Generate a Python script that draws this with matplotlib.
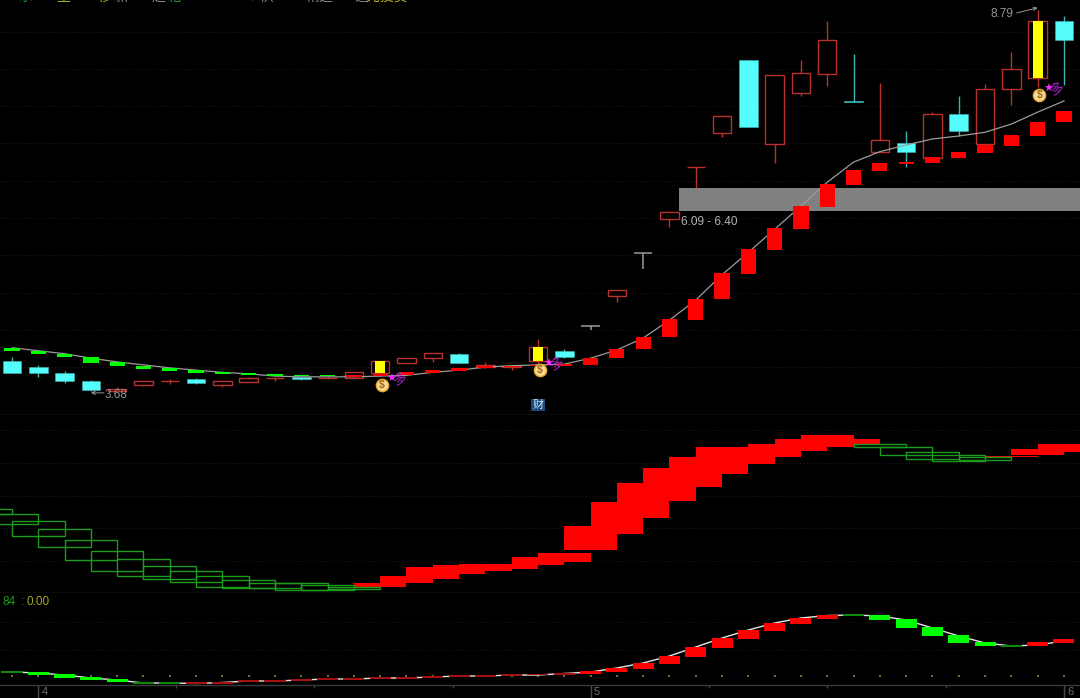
import matplotlib
matplotlib.use('Agg')
import matplotlib.pyplot as plt

plt.rcParams['font.family'] = ['Liberation Sans', 'Noto Sans CJK SC', 'DejaVu Sans']

# K-line, one bar per day
opens = [4.08, 4.00, 3.92, 3.81, 3.68, 3.76, 3.81, 3.84, 3.76, 3.80, 3.85, 3.87, 3.85, 3.85,
         3.92, 4.06, 4.12, 4.18, 4.00, 4.00, 4.08, 4.22, 4.55, 4.95, 5.53, 5.99, 6.68, 7.14,
         8.12, 6.99, 7.68, 7.93, 7.57, 6.89, 7.01, 6.81, 7.40, 6.99, 7.73, 7.88, 8.64]
closes = [3.92, 3.92, 3.81, 3.69, 3.71, 3.81, 3.82, 3.79, 3.81, 3.85, 3.86, 3.84, 3.86, 3.93,
          4.08, 4.12, 4.19, 4.06, 4.03, 4.02, 4.27, 4.14, 4.55, 5.03, 5.53, 6.08, 6.69, 7.37,
          7.22, 7.92, 7.95, 8.39, 7.56, 7.05, 6.89, 7.40, 7.17, 7.73, 8.00, 8.64, 8.39]
highs = [4.14, 4.03, 3.95, 3.83, 3.73, 3.81, 3.84, 3.85, 3.81, 3.87, 3.87, 3.87, 3.88, 3.93,
         4.08, 4.12, 4.19, 4.19, 4.07, 4.03, 4.38, 4.24, 4.55, 5.03, 5.53, 6.08, 6.69, 7.37,
         8.12, 7.92, 8.12, 8.64, 8.20, 7.81, 7.17, 7.42, 7.64, 7.80, 8.23, 8.79, 8.71]
lows = [3.92, 3.87, 3.79, 3.68, 3.68, 3.75, 3.77, 3.77, 3.73, 3.80, 3.81, 3.83, 3.84, 3.85,
        3.88, 4.06, 4.07, 4.06, 3.99, 3.96, 4.04, 4.12, 4.50, 4.87, 5.32, 5.88, 6.40, 7.09,
        7.22, 6.74, 7.64, 7.77, 7.56, 6.89, 6.68, 6.81, 7.10, 6.99, 7.52, 7.76, 7.78]

# trend blocks sitting on the average line
block_top = [4.26, 4.22, 4.18, 4.14, 4.07, 4.02, 3.99, 3.96, 3.93, 3.92, 3.91, 3.89, 3.89, 3.89,
             3.91, 3.93, 3.96, 3.99, 4.02, 4.02, 4.03, 4.04, 4.12, 4.24, 4.40, 4.65, 4.91, 5.26,
             5.58, 5.87, 6.16, 6.46, 6.64, 6.74, 6.75, 6.82, 6.89, 6.98, 7.11, 7.29, 7.43]
block_bottom = [4.22, 4.18, 4.14, 4.06, 4.02, 3.98, 3.95, 3.92, 3.91, 3.89, 3.88, 3.88, 3.88, 3.87,
                3.88, 3.89, 3.92, 3.95, 3.99, 4.00, 4.02, 4.02, 4.03, 4.12, 4.24, 4.40, 4.63, 4.91,
                5.25, 5.57, 5.85, 6.15, 6.44, 6.63, 6.72, 6.74, 6.81, 6.87, 6.97, 7.10, 7.29]
avg_line = [4.26, 4.22, 4.18, 4.12, 4.07, 4.03, 3.99, 3.96, 3.93, 3.91, 3.88, 3.87, 3.87, 3.87,
            3.88, 3.89, 3.93, 3.96, 4.00, 4.02, 4.03, 4.04, 4.12, 4.23, 4.39, 4.63, 4.90, 5.24,
            5.54, 5.85, 6.16, 6.48, 6.75, 6.89, 6.98, 7.06, 7.10, 7.15, 7.26, 7.42, 7.57]
block_green_until = 12

signal_days = [14, 20, 39]
bag_prices = [3.76, 3.96, 7.65]
zone_low = 6.09
zone_high = 6.40
zone_start = 25.36
price_grid = [4.0, 4.5, 5.0, 5.5, 6.0, 6.5, 7.0, 7.5, 8.0, 8.5]

# middle panel, first band belongs to the day before the screen
band_days = list(range(-1, 41))
band_top = [84, 79, 72, 64, 53, 42, 34, 27, 22, 17, 13, 10, 10, 8, 6, 10, 17, 26, 28, 29, 29, 36, 40,
            67, 91, 110, 125, 136, 146, 146, 149, 154, 158, 154, 149, 146, 141, 138, 136, 137, 144, 149]
band_bottom = [79, 69, 57, 46, 33, 22, 17, 14, 11, 6, 5, 5, 3, 3, 4, 6, 10, 14, 19, 22, 24, 28, 31,
               43, 59, 75, 92, 106, 119, 129, 136, 142, 146, 149, 146, 138, 134, 132, 133, 136, 138, 141]
band_green = list(range(-1, 14)) + [33, 34, 35, 36, 37]
band_grid = [32, 65, 97, 130, 163]

# lower panel
osc_top = [14, 13, 11, 8, 6, 3, 3, 3, 3, 5, 5, 6, 7, 7, 8, 8, 9, 10, 10, 11, 11, 12, 14, 17, 22,
           29, 38, 47, 55, 62, 67, 70, 71, 70, 66, 58, 50, 43, 40, 43, 46]
osc_bottom = [12, 10, 7, 5, 3, 1, 1, 1, 1, 3, 3, 4, 5, 5, 6, 6, 7, 8, 8, 9, 10, 10, 11, 13, 16,
              21, 28, 37, 46, 54, 61, 66, 69, 65, 57, 49, 42, 39, 38.5, 39, 42]
osc_line = [13, 12, 10, 7, 5, 2, 2, 1.5, 2.5, 4, 4, 5, 6, 6, 7, 7, 8, 9, 9, 10, 10, 11.5, 13, 17, 22,
            29, 38, 47, 55, 62, 67, 69.5, 70, 69, 65, 57, 49, 42, 39, 40, 44]
osc_green = [0, 1, 2, 3, 4, 5, 6, 32, 33, 34, 35, 36, 37, 38]
osc_grid = [35, 63]
osc_base = 9

month_days = [1, 22, 40]
month_labels = ['4', '5', '6']
minor_days = [6.25, 11.5, 16.75, 26.5, 31, 35.5]

days = list(range(len(opens)))
W, H = 1080, 698
BG = '#000000'
RED = '#ff0000'
GREEN = '#00ff00'
CYAN = '#54fcfc'
HOLLOW_RED = '#b8312f'
GREY_TXT = '#969696'


def panel(top_px, bottom_px):
    ax = fig.add_axes([0, 1 - bottom_px / H, 1, (bottom_px - top_px) / H])
    ax.set_facecolor(BG)
    ax.set_xlim(-0.456, 40.61)
    for s in ['top', 'left', 'right']:
        ax.spines[s].set_visible(False)
    ax.spines['bottom'].set_color('#3a3a3a')
    ax.spines['bottom'].set_linewidth(1)
    ax.tick_params(axis='both', length=0, labelleft=False, labelbottom=False)
    ax.set_xticks([])
    ax.grid(True, axis='y', color='#1f1f1f', linestyle=(0, (1, 2.5)), linewidth=0.7)
    ax.set_axisbelow(True)
    return ax


fig = plt.figure(figsize=(W / 100, H / 100), dpi=100, facecolor=BG)

# ---------- main panel ----------
ax1 = panel(0, 415)
ax1.set_ylim(3.358, 8.924)
ax1.set_yticks(price_grid)

ax1.bar(zone_start, zone_high - zone_low, bottom=zone_low, width=41 - zone_start, align='edge',
        color='#808080', zorder=2)

for i in days:
    o, c, h, l = opens[i], closes[i], highs[i], lows[i]
    top, bottom = max(o, c), min(o, c)
    if c > o:
        ax1.vlines(i, bottom, h, color=HOLLOW_RED, lw=1, zorder=3)
        ax1.vlines(i, l, bottom, color=HOLLOW_RED, lw=1, zorder=3)
        ax1.bar(i, top - bottom, bottom=bottom, width=0.7, facecolor=BG, edgecolor=HOLLOW_RED,
                linewidth=1, zorder=3.2)
    elif c < o:
        ax1.vlines(i, l, h, color='#3fb3b3', lw=1, zorder=3)
        ax1.bar(i, top - bottom, bottom=bottom, width=0.71, facecolor=CYAN, edgecolor='#3fb3b3',
                linewidth=0.4, zorder=3.2)
    else:
        ax1.vlines(i, l, h, color='#9a9a9a', lw=1.1, zorder=3)
        ax1.hlines(c, i - 0.35, i + 0.35, color='#9a9a9a', lw=1.1, zorder=3)

for i in signal_days:
    ax1.bar(i, closes[i] - opens[i], bottom=opens[i], width=0.38, color='#ffff00', linewidth=0, zorder=3.4)

ax1.plot(days, avg_line, color='#9c9c9c', lw=0.9, zorder=3.6)

for i in days:
    ax1.bar(i, block_top[i] - block_bottom[i], bottom=block_bottom[i], width=0.58,
            color=GREEN if i <= block_green_until else RED, linewidth=0, zorder=4)

for d, p in zip(signal_days, bag_prices):
    ax1.scatter([d + 0.06], [p], s=78, color='#f6dc96', edgecolor='#e8a92a', linewidth=1, zorder=6)
    ax1.annotate('$', (d + 0.06, p), ha='center', va='center', fontsize=7.5, color='#a8641c',
                 fontweight='bold', zorder=7)
    ax1.annotate('★', (d + 0.06, p), xytext=(6.5, 4.5), textcoords='offset points', ha='center', va='center',
                 fontsize=8, color='#ff2cff', family='DejaVu Sans', zorder=7)
    ax1.annotate('多', (d + 0.06, p), xytext=(12.5, 4.5), textcoords='offset points', ha='center', va='center',
                 fontsize=9.5, color='#b020d0', rotation=20, family='Noto Sans CJK SC', zorder=7)

ax1.annotate('3.68', (3, 3.68), xytext=(10, -3), textcoords='offset points', ha='left', va='center',
             fontsize=8.5, color=GREY_TXT, zorder=8)
ax1.annotate('', xy=(3, 3.655), xytext=(3.5, 3.655),
             arrowprops=dict(arrowstyle='->', color=GREY_TXT, lw=0.7, shrinkA=0, shrinkB=0, mutation_scale=6))
ax1.annotate('8.79', (39, 8.79), xytext=(-34, -3), textcoords='offset points', ha='left', va='center',
             fontsize=8.5, color=GREY_TXT, zorder=8)
ax1.annotate('', xy=(39, 8.82), xytext=(38.2, 8.75),
             arrowprops=dict(arrowstyle='->', color=GREY_TXT, lw=0.7, shrinkA=0, shrinkB=0, mutation_scale=6))
ax1.text(zone_start + 0.08, zone_low - 0.14, '6.09 - 6.40', ha='left', va='center', fontsize=8.5,
         color='#b4b4b4', zorder=8)
ax1.text(20, 3.49, '财', ha='center', va='center', fontsize=8, color='#d8e8f8', zorder=8,
         bbox=dict(boxstyle='square,pad=0.12', facecolor='#1a4a7c', edgecolor='none'))

# cut-off indicator names along the very top
top_names = [(18, '水', '#1f9f3a'), (56, '量', '#c8c820'), (98, '移', '#b8b820'), (114, '新', '#8a8a8a'),
             (152, '趋', '#8a8a8a'), (168, '格', '#1f9f3a'), (208, '一', '#1f9f3a'), (248, '↑', '#1f9f3a'),
             (260, '供', '#8a8a8a'), (306, '精选', '#8a8a8a'), (354, '追', '#8a8a8a'), (366, '光投资 ', '#b8b820')]
for x, s, col in top_names:
    fig.text(x / W, 0.9945, s, ha='left', va='bottom', fontsize=10, color=col)

# ---------- middle panel ----------
ax2 = panel(415, 593)
ax2.set_ylim(0, 178)
ax2.set_yticks(band_grid)
for d, t, b in zip(band_days, band_top, band_bottom):
    if d in band_green:
        ax2.bar(d, t - b, bottom=b, width=2.0, facecolor='none', edgecolor='#1c9c1c', linewidth=1, zorder=3)
    else:
        ax2.bar(d, t - b, bottom=b, width=2.0, color=RED, linewidth=0, zorder=2.5)

# ---------- lower panel ----------
ax3 = panel(593, 685)
ax3.set_ylim(0, 92)
ax3.set_yticks(osc_grid)
ax3.plot(days, osc_line, color='#e6e6e6', lw=1, zorder=2)
ax3.scatter(days, [osc_base] * len(days), s=1.2, marker='s', color='#6f6f2a', linewidth=0, zorder=1.5)
for i in days:
    h = osc_top[i] - osc_bottom[i]
    if i in osc_green:
        col = '#0c8c0c' if h <= 2 else GREEN
    else:
        col = '#a81010' if h <= 2 else RED
    ax3.bar(i, h, bottom=osc_bottom[i], width=0.8, color=col, linewidth=0, zorder=3)

ax3.text(0.002, 0.9, '84', transform=ax3.transAxes, ha='left', va='center', fontsize=8.5, color='#1c9c1c')
ax3.text(0.019, 0.9, ':', transform=ax3.transAxes, ha='left', va='center', fontsize=8.5, color='#6a6a6a')
ax3.text(0.0245, 0.9, '0.00', transform=ax3.transAxes, ha='left', va='center', fontsize=8.5, color='#a8a820')

ax3.set_xticks(month_days)
ax3.set_xticks(minor_days, minor=True)
ax3.tick_params(axis='x', which='major', length=9, width=1, color='#4a4a4a', direction='out')
ax3.tick_params(axis='x', which='minor', length=2, width=0.8, color='#4a4a4a', direction='out')
for d, s in zip(month_days, month_labels):
    ax3.annotate(s, (d, 0), xytext=(2.5, -1.5), textcoords='offset points', ha='left', va='top',
                 fontsize=8, color='#6e6e6e', annotation_clip=False)

fig.savefig('out.png', dpi=100, facecolor=BG)
